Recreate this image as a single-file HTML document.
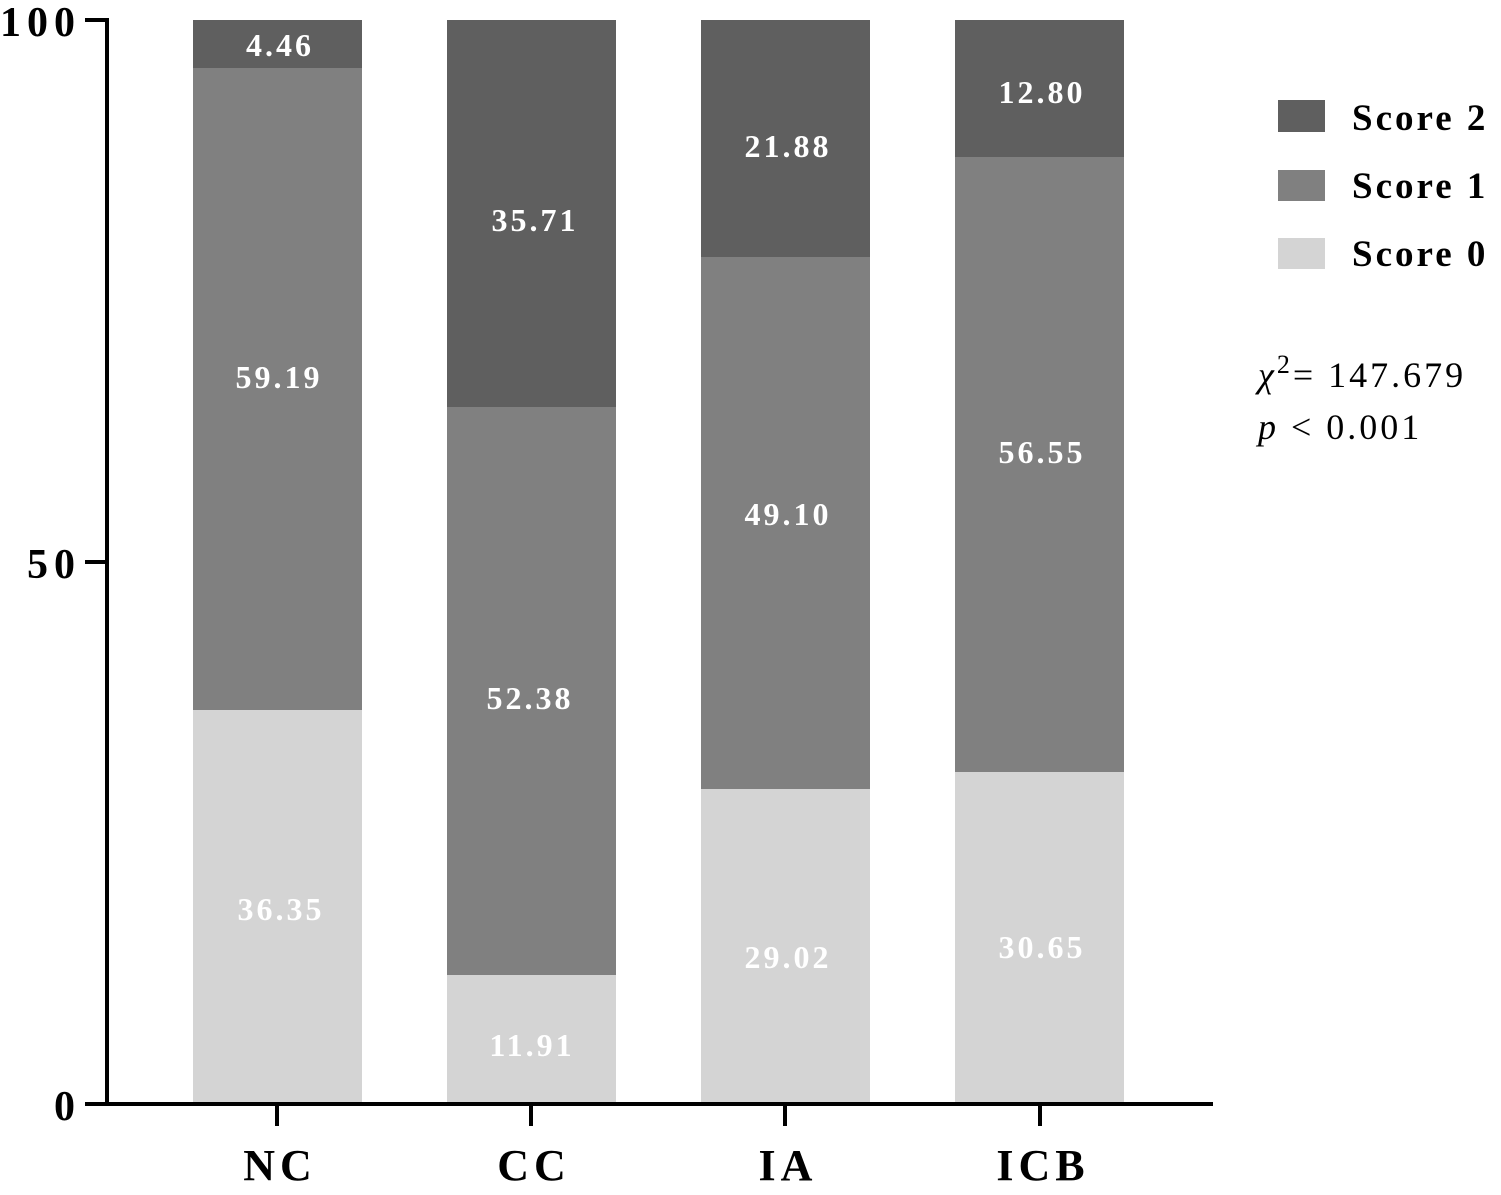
<!DOCTYPE html>
<html><head><meta charset="utf-8"><style>
html,body{margin:0;padding:0;background:#fff;}
svg{display:block;}
text{font-family:"Liberation Serif",serif;}
</style></head><body>
<svg width="1501" height="1195" viewBox="0 0 1501 1195">
<g fill="#d4d4d4">
<rect x="193" y="710" width="169" height="394"/>
<rect x="447" y="975" width="169" height="129"/>
<rect x="701" y="789" width="169" height="315"/>
<rect x="955" y="772" width="169" height="332"/>
</g>
<g fill="#808080">
<rect x="193" y="68" width="169" height="642"/>
<rect x="447" y="407" width="169" height="568"/>
<rect x="701" y="257" width="169" height="532"/>
<rect x="955" y="157" width="169" height="615"/>
</g>
<g fill="#5f5f5f">
<rect x="193" y="20" width="169" height="48"/>
<rect x="447" y="20" width="169" height="387"/>
<rect x="701" y="20" width="169" height="237"/>
<rect x="955" y="20" width="169" height="137"/>
</g>
<g fill="#fff" font-size="32" font-weight="bold" text-anchor="middle" letter-spacing="3">
<text x="280" y="56">4.46</text>
<text x="279" y="388">59.19</text>
<text x="281" y="920">36.35</text>
<text x="535" y="231">35.71</text>
<text x="530" y="709">52.38</text>
<text x="532" y="1056">11.91</text>
<text x="788" y="157">21.88</text>
<text x="788" y="525">49.10</text>
<text x="788" y="968">29.02</text>
<text x="1042" y="103">12.80</text>
<text x="1042" y="463">56.55</text>
<text x="1042" y="958">30.65</text>
</g>
<g stroke="#000" stroke-width="4" fill="none">
<line x1="107" y1="18" x2="107" y2="1106"/>
<line x1="105" y1="1104" x2="1213" y2="1104"/>
<line x1="85" y1="20" x2="107" y2="20"/>
<line x1="85" y1="562" x2="107" y2="562"/>
<line x1="85" y1="1104" x2="107" y2="1104"/>
<line x1="277" y1="1104" x2="277" y2="1126"/>
<line x1="531" y1="1104" x2="531" y2="1126"/>
<line x1="785" y1="1104" x2="785" y2="1126"/>
<line x1="1040" y1="1104" x2="1040" y2="1126"/>
</g>
<g font-size="42" font-weight="bold" letter-spacing="6">
<text x="0" y="36">100</text>
<text x="27" y="578">50</text>
<text x="54" y="1120">0</text>
</g>
<g font-size="44" font-weight="bold" text-anchor="middle" letter-spacing="5">
<text x="280" y="1180">NC</text>
<text x="534" y="1180">CC</text>
<text x="788" y="1180">IA</text>
<text x="1043" y="1180">ICB</text>
</g>
<rect x="1278" y="100" width="47" height="32" fill="#5f5f5f"/>
<rect x="1278" y="170" width="47" height="31" fill="#808080"/>
<rect x="1278" y="238" width="47" height="31" fill="#d4d4d4"/>
<g font-size="37" font-weight="bold" letter-spacing="3">
<text x="1352" y="130">Score 2</text>
<text x="1352" y="198">Score 1</text>
<text x="1352" y="266">Score 0</text>
</g>
<g font-size="36" letter-spacing="3">
<text x="1258" y="387"><tspan font-style="italic">χ</tspan><tspan font-size="26" dy="-14">2</tspan><tspan dy="14">= 147.679</tspan></text>
<text x="1258" y="439"><tspan font-style="italic">p</tspan> &lt; 0.001</text>
</g>
</svg>
</body></html>
